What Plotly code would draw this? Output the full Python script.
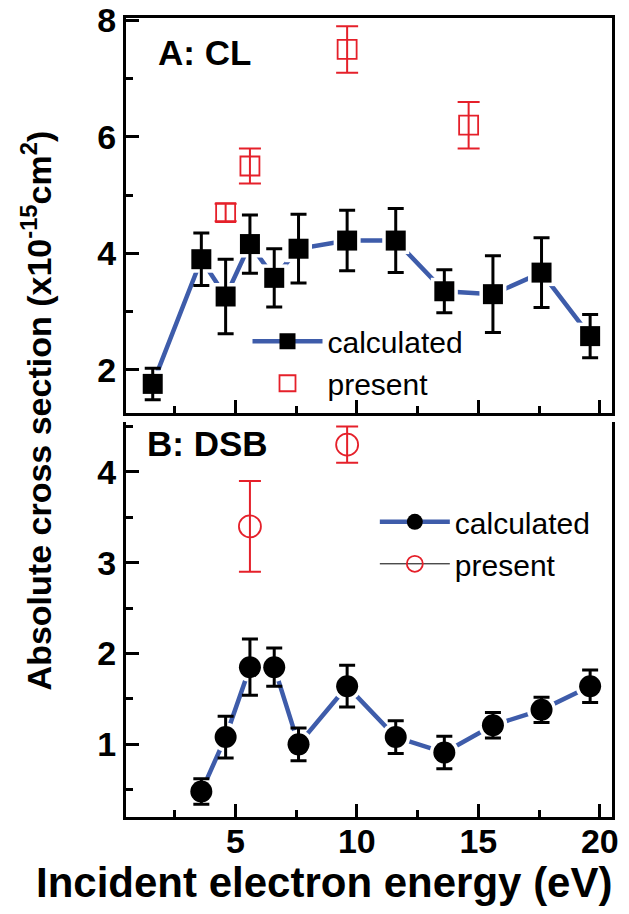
import plotly.graph_objects as go

# ---------------- data ----------------
x_cl_calc = [1.6, 3.6, 4.6, 5.6, 6.6, 7.6, 9.6, 11.6, 13.6, 15.6, 17.6, 19.6]
cl_calc = [1.76, 3.90, 3.26, 4.16, 3.58, 4.08, 4.22, 4.22, 3.35, 3.30, 3.67, 2.58]
cl_calc_err = [0.27, 0.45, 0.64, 0.50, 0.50, 0.59, 0.52, 0.55, 0.37, 0.66, 0.60, 0.37]

x_cl_present = [4.6, 5.6, 9.6, 14.6]
cl_present = [4.70, 5.50, 7.50, 6.20]
cl_present_err = [0.15, 0.30, 0.40, 0.40]

x_dsb_calc = [3.6, 4.6, 5.6, 6.6, 7.6, 9.6, 11.6, 13.6, 15.6, 17.6, 19.6]
dsb_calc = [0.48, 1.08, 1.85, 1.85, 1.00, 1.64, 1.08, 0.91, 1.21, 1.38, 1.64]
dsb_calc_err = [0.14, 0.23, 0.31, 0.21, 0.18, 0.23, 0.18, 0.18, 0.14, 0.14, 0.18]

x_dsb_present = [5.6, None, 9.6]
dsb_present = [3.40, None, 4.30]
dsb_present_err = [0.50, None, 0.20]

x_ticks = [5, 10, 15, 20]
x_ticklabels = ["5", "10", "15", "20"]
cl_ticks = [2, 4, 6, 8]
dsb_ticks = [1, 2, 3, 4]

# ---------------- style ----------------
BLUE = "#3E5CAA"
RED = "#E5202A"
FONT = "Liberation Sans, Arial, sans-serif"

fig = go.Figure()

# ---- Panel A (CL) ----
fig.add_trace(go.Scatter(x=x_cl_calc, y=cl_calc, mode="lines",
                         line=dict(color=BLUE, width=4.5), showlegend=False,
                         hoverinfo="skip", xaxis="x", yaxis="y"))
fig.add_trace(go.Scatter(x=x_cl_calc, y=cl_calc, mode="markers",
                         marker=dict(symbol="square", size=27, color="white"),
                         showlegend=False, hoverinfo="skip", xaxis="x", yaxis="y"))
fig.add_trace(go.Scatter(x=x_cl_calc, y=cl_calc, mode="markers",
                         marker=dict(symbol="square", size=20, color="black"),
                         error_y=dict(type="data", array=cl_calc_err, color="black",
                                      thickness=3, width=8),
                         showlegend=False, xaxis="x", yaxis="y"))
fig.add_trace(go.Scatter(x=[None], y=[None], mode="lines+markers", name="calculated",
                         line=dict(color=BLUE, width=4.5),
                         marker=dict(symbol="square", size=20, color="black"),
                         legend="legend", xaxis="x", yaxis="y"))
fig.add_trace(go.Scatter(x=x_cl_present, y=cl_present, mode="markers", name="present",
                         marker=dict(symbol="square-open", size=19, color=RED,
                                     line=dict(width=1.8, color=RED)),
                         error_y=dict(type="data", array=cl_present_err, color=RED,
                                      thickness=2, width=11),
                         legend="legend", xaxis="x", yaxis="y"))

# ---- Panel B (DSB) ----
fig.add_trace(go.Scatter(x=x_dsb_calc, y=dsb_calc, mode="lines",
                         line=dict(color=BLUE, width=4.5), showlegend=False,
                         hoverinfo="skip", xaxis="x2", yaxis="y2"))
fig.add_trace(go.Scatter(x=x_dsb_calc, y=dsb_calc, mode="markers",
                         marker=dict(symbol="circle", size=29, color="white"),
                         showlegend=False, hoverinfo="skip", xaxis="x2", yaxis="y2"))
fig.add_trace(go.Scatter(x=x_dsb_calc, y=dsb_calc, mode="markers",
                         marker=dict(symbol="circle", size=22, color="black"),
                         error_y=dict(type="data", array=dsb_calc_err, color="black",
                                      thickness=3, width=8),
                         showlegend=False, xaxis="x2", yaxis="y2"))
fig.add_trace(go.Scatter(x=[None], y=[None], mode="lines+markers", name="calculated",
                         line=dict(color=BLUE, width=4.5),
                         marker=dict(symbol="circle", size=22, color="black"),
                         legend="legend2", xaxis="x2", yaxis="y2"))
fig.add_trace(go.Scatter(x=x_dsb_present, y=dsb_present, mode="lines+markers", name="present",
                         connectgaps=False,
                         line=dict(color="black", width=1),
                         marker=dict(symbol="circle-open", size=22, color=RED,
                                     line=dict(width=1.8, color=RED)),
                         error_y=dict(type="data", array=dsb_present_err, color=RED,
                                      thickness=2, width=11),
                         legend="legend2", xaxis="x2", yaxis="y2"))

axis_common = dict(showline=True, linecolor="black", linewidth=3,
                   ticks="inside", ticklen=13, tickwidth=2.5, tickcolor="black",
                   showgrid=False, zeroline=False, automargin=False,
                   tickfont=dict(family=FONT, size=34, color="black", weight="bold"))

fig.update_layout(
    width=629, height=914,
    margin=dict(l=126, r=17, t=18, b=97, autoexpand=False),
    paper_bgcolor="white", plot_bgcolor="white",
    font=dict(family=FONT, color="black"),
    xaxis=dict(axis_common, domain=[0, 1], range=[0.5, 20.5], anchor="y",
               tickvals=x_ticks, ticktext=x_ticklabels, showticklabels=False,
               mirror=True,
               minor=dict(ticks="inside", ticklen=7, tickwidth=2.5, tickcolor="black",
                          dtick=2.5, tick0=0)),
    yaxis=dict(axis_common, domain=[0.5056, 1], range=[1.26, 8.04], anchor="x",
               tickvals=cl_ticks, mirror=True,
               minor=dict(ticks="inside", ticklen=7, tickwidth=2.5, tickcolor="black",
                          dtick=1, tick0=0)),
    xaxis2=dict(axis_common, domain=[0, 1], range=[0.5, 20.5], anchor="y2",
                tickvals=x_ticks, ticktext=x_ticklabels, mirror=False,
                ticklabelstandoff=-8,
                minor=dict(ticks="inside", ticklen=7, tickwidth=2.5, tickcolor="black",
                           dtick=2.5, tick0=0)),
    yaxis2=dict(axis_common, domain=[0, 0.4944], range=[0.2, 4.55], anchor="x2",
                tickvals=dsb_ticks, mirror=True,
                minor=dict(ticks="inside", ticklen=7, tickwidth=2.5, tickcolor="black",
                           dtick=0.5, tick0=0)),
    legend=dict(x=0.250, y=0.628, xanchor="left", yanchor="top",
                bgcolor="rgba(0,0,0,0)", itemwidth=70, tracegroupgap=0,
                font=dict(family=FONT, size=30, color="black")),
    legend2=dict(x=0.512, y=0.402, xanchor="left", yanchor="top",
                 bgcolor="rgba(0,0,0,0)", itemwidth=70, tracegroupgap=0,
                 font=dict(family=FONT, size=30, color="black")),
    annotations=[
        dict(text="<b>A: CL</b>", xref="paper", yref="paper", x=0.062, y=0.957,
             xanchor="left", yanchor="middle", showarrow=False,
             font=dict(family=FONT, size=35, color="black")),
        dict(text="<b>B: DSB</b>", xref="paper", yref="paper", x=0.039, y=0.468,
             xanchor="left", yanchor="middle", showarrow=False,
             font=dict(family=FONT, size=35, color="black")),
        dict(text="<b>Absolute cross section (x10<sup>-15</sup>cm<sup>2</sup>)</b>",
             xref="paper", yref="paper", x=-0.185, y=0.509, textangle=-90,
             xanchor="center", yanchor="middle", showarrow=False,
             font=dict(family=FONT, size=34, color="black")),
        dict(text="<b>Incident electron energy (eV)</b>",
             xref="paper", yref="paper", x=0.407, y=-0.0826,
             xanchor="center", yanchor="middle", showarrow=False,
             font=dict(family=FONT, size=42, color="black")),
    ],
)

fig.write_html("out.html",
               config={"displayModeBar": False},
               post_script="document.body.style.margin='0';"
                           "document.body.style.overflow='hidden';")
